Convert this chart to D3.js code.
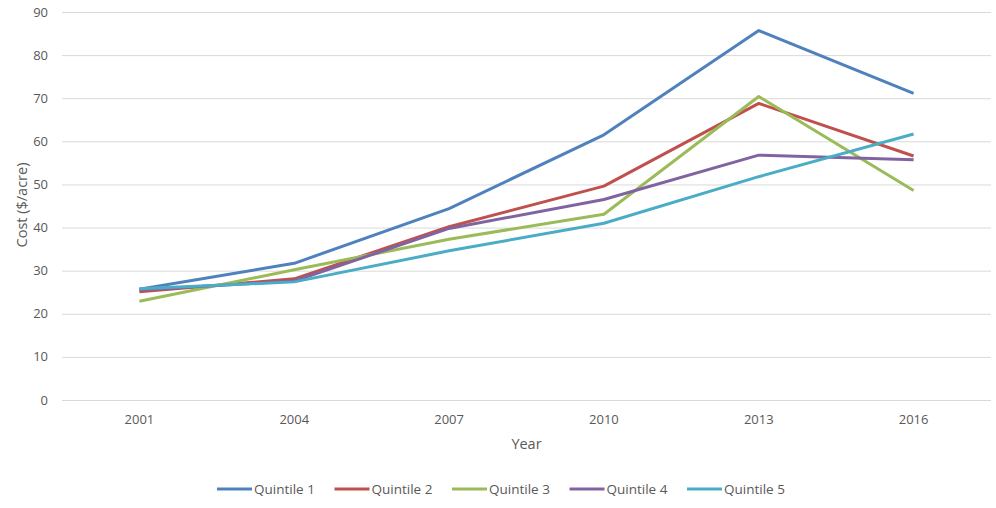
<!DOCTYPE html>
<html><head><meta charset="utf-8">
<script src="https://cdn.jsdelivr.net/npm/d3@7"></script>
<style>body{margin:0;background:#fff}svg{display:block}text{font-family:"Open Sans","Noto Sans",sans-serif;fill:#595959}</style>
</head><body><svg id="c" width="996" height="508"></svg>
<script>
const years = ["2001","2004","2007","2010","2013","2016"];
const seriesNames = ["Quintile 1","Quintile 2","Quintile 3","Quintile 4","Quintile 5"];
const q1 = [25.7, 31.7, 44.4, 61.5, 85.7, 71.1];
const q2 = [25.1, 28.1, 40.2, 49.6, 68.8, 56.6];
const q3 = [22.9, 30.2, 37.3, 43.1, 70.4, 48.6];
const q4 = [25.5, 27.6, 39.8, 46.5, 56.8, 55.7];
const q5 = [25.8, 27.4, 34.6, 41.0, 51.8, 61.7];
const yTicks = [0,10,20,30,40,50,60,70,80,90];
const colors = ["#4F81BD","#C0504D","#9BBB59","#8064A2","#4BACC6"];
const data = [q1,q2,q3,q4,q5];

(function(){
const svg = d3.select("#c");
const pl = 62, pr = 991, pt = 12, pb = 400;
const x = d3.scaleBand().domain(years).range([pl,pr]);
const y = d3.scaleLinear().domain([0,90]).range([pb,pt]);

svg.append("g").selectAll("line").data(yTicks).join("line")
  .attr("x1",pl).attr("x2",pr)
  .attr("y1",d=>y(d)+0.5).attr("y2",d=>y(d)+0.5)
  .attr("stroke","#d9d9d9").attr("stroke-width",1);

svg.append("g").selectAll("text").data(yTicks).join("text")
  .attr("x",48).attr("y",d=>y(d)).attr("dy","0.35em")
  .attr("text-anchor","end").attr("font-size",13).text(d=>d);

svg.append("g").selectAll("text").data(years).join("text")
  .attr("x",d=>x(d)+x.bandwidth()/2).attr("y",424)
  .attr("text-anchor","middle").attr("font-size",13).text(d=>d);

svg.append("text").attr("x",(pl+pr)/2).attr("y",449).attr("text-anchor","middle").attr("font-size",14.5).text("Year");
svg.append("text").attr("transform","translate(27,205) rotate(-90)").attr("text-anchor","middle").attr("font-size",14.5).text("Cost ($/acre)");

const line = d3.line().x((d,i)=>x(years[i])+x.bandwidth()/2).y(d=>y(d));
svg.append("g").selectAll("path").data(data).join("path")
  .attr("d",line).attr("fill","none")
  .attr("stroke",(d,i)=>colors[i]).attr("stroke-width",3).attr("stroke-linejoin","round");

const lg = svg.append("g");
const lx0 = 217, lstep = 117.5, ly = 489;
seriesNames.forEach((n,i)=>{
  const gx = lx0 + i*lstep;
  lg.append("line").attr("x1",gx).attr("x2",gx+35).attr("y1",ly).attr("y2",ly)
    .attr("stroke",colors[i]).attr("stroke-width",3);
  lg.append("text").attr("x",gx+37).attr("y",ly).attr("dy","0.35em").attr("font-size",13.5).text(n);
});
})();
</script></body></html>
